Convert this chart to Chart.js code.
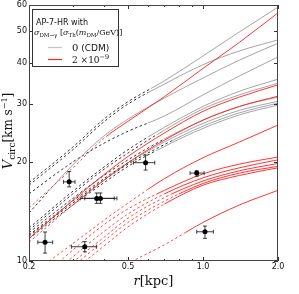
<!DOCTYPE html>
<html><head><meta charset="utf-8">
<script src="https://cdn.jsdelivr.net/npm/chart.js@4.4.0/dist/chart.umd.min.js"></script>
<style>html,body{margin:0;padding:0;background:#fff;overflow:hidden}</style>
</head><body>
<canvas id="c" width="299" height="294" style="width:299px;height:294px;display:block"></canvas>
<script>
// ---- data ----
const radii = [0.2, 0.3, 0.4, 0.5, 0.7, 1.0, 1.4, 2.0];           // r [kpc]
// CDM (sigma = 0) rotation curves, V_circ [km/s] at the radii above
const cdmCurves = [
  [17.3, 22.2, 27.0, 30.5, 35.3, 42.0, 49.7, 59.1],
  [17.0, 21.8, 26.5, 30.0, 34.5, 39.5, 43.5, 47.0],
  [14.0, 19.6, 24.0, 27.0, 31.3, 36.0, 40.8, 45.9],
  [16.0, 20.0, 22.8, 24.8, 27.6, 32.0, 36.5, 41.7],
  [12.6, 16.3, 19.3, 21.8, 25.5, 29.5, 32.8, 35.7],
  [12.4, 16.0, 19.0, 21.3, 25.0, 29.0, 32.0, 34.7],
  [12.2, 15.5, 18.2, 20.3, 23.5, 26.8, 29.5, 31.5],
  [12.0, 15.2, 17.8, 19.9, 23.0, 26.2, 28.7, 30.6],
  [11.9, 15.0, 17.6, 19.7, 22.6, 25.7, 28.2, 30.2],
  [11.7, 14.8, 17.3, 19.4, 22.3, 25.3, 27.8, 29.8]
];
const cdmConv = [0.62, 0.6, 0.24, 0.6, 0.6, 0.65, 0.7, 0.55, 0.75, 0.65];   // convergence radius
// SIDM (sigma = 2e-9) rotation curves
const sidmCurves = [
  [14.5, 19.2, 23.6, 26.6, 31.6, 38.5, 46.2, 56.8],
  [11.7, 15.3, 18.3, 20.8, 24.5, 28.5, 31.5, 34.3],
  [11.4, 14.8, 17.6, 19.9, 23.3, 26.8, 29.5, 31.7],
  [9.0, 11.3, 13.3, 15.0, 17.8, 20.6, 23.0, 25.9],
  [8.2, 10.8, 12.9, 14.4, 16.4, 18.4, 19.7, 20.7],
  [7.8, 10.3, 12.3, 13.9, 16.0, 17.9, 19.2, 20.3],
  [7.4, 9.9, 11.8, 13.5, 15.6, 17.5, 18.8, 19.8],
  [7.2, 9.6, 11.5, 13.1, 15.2, 17.2, 18.5, 19.4],
  [7.0, 9.3, 11.1, 12.7, 14.9, 17.0, 18.2, 19.2],
  [6.0, 7.5, 8.7, 9.8, 11.2, 13.1, 14.8, 16.4]
];
const sidmConv = [0.41, 0.2, 0.3, 0.6, 0.65, 0.7, 0.75, 0.8, 0.7, 0.85];
// observed points with error bars
const obsR   = [0.232, 0.290, 0.374, 0.387, 0.588, 0.335, 0.943, 1.018];
const obsV   = [11.4, 17.4, 15.5, 15.5, 19.9, 11.05, 18.5, 12.27];
const obsRlo = [0.217, 0.275, 0.321, 0.335, 0.525, 0.296, 0.887, 0.943];
const obsRhi = [0.249, 0.306, 0.440, 0.451, 0.640, 0.373, 1.01, 1.10];
const obsVlo = [10.57, 16.8, 14.97, 14.97, 18.9, 10.67, 18.1, 11.72];
const obsVhi = [12.25, 18.7, 16.1, 16.1, 21.0, 11.45, 18.8, 12.77];
// axes
const xMajorTicks = [0.2, 0.5, 1.0, 2.0];
const xTickLabels = ['0.2', '0.5', '1.0', '2.0'];
const xMinorTicks = [0.3, 0.4, 0.6, 0.7, 0.8, 0.9];
const yMajorTicks = [10, 20, 30, 40, 50, 60];
const yTickLabels = ['10', '20', '30', '40', '50', '60'];
const legendTitle = 'AP-7-HR with';
const legendLabels = ['0 (CDM)', '2 \u00d710'];

// ---- build datasets ----
const GRAY = 'rgb(155,155,155)', RED = 'rgb(255,30,30)';
const datasets = [];
datasets.push({
  type: 'scatter', label: 'obs', isObs: true,
  data: obsR.map((r, i) => ({x: r, y: obsV[i]})),
  pointRadius: 2.5, pointBackgroundColor: '#000', pointBorderColor: '#000', pointBorderWidth: 0,
  showLine: false
});
function addCurves(curves, conv, solidColor, dashColor) {
  curves.forEach((vals, i) => {
    const data = radii.map((r, k) => ({x: r, y: vals[k]}));
    datasets.push({data, convMin: conv[i], borderColor: solidColor, borderWidth: 0.9,
      pointRadius: 0, cubicInterpolationMode: 'monotone', fill: false});
    datasets.push({data, convMax: conv[i], borderColor: dashColor, borderWidth: 0.8,
      borderDash: [2.5, 2.5], pointRadius: 0, cubicInterpolationMode: 'monotone', fill: false});
  });
}
addCurves(sidmCurves, sidmConv, RED, RED);
addCurves(cdmCurves, cdmConv, GRAY, '#000');

// ---- helpers ----
function richText(ctx, x, y, parts) {
  let cx = x;
  parts.forEach(p => { ctx.font = p.f; ctx.fillText(p.t, cx, y + (p.dy || 0)); cx += ctx.measureText(p.t).width; });
  return cx - x;
}
function richWidth(ctx, parts) {
  let w = 0; parts.forEach(p => { ctx.font = p.f; w += ctx.measureText(p.t).width; }); return w;
}

const convClip = {
  id: 'convClip',
  beforeDatasetDraw(chart, args) {
    const ds = chart.data.datasets[args.index];
    const ctx = chart.ctx, a = chart.chartArea, xs = chart.scales.x;
    if (ds.isObs) {
      ctx.save();
      ctx.strokeStyle = 'rgba(30,30,30,0.85)'; ctx.lineWidth = 1;
      const ys = chart.scales.y;
      ctx.beginPath();
      obsR.forEach((r, i) => {
        const px = xs.getPixelForValue(r), py = ys.getPixelForValue(obsV[i]);
        const x0 = xs.getPixelForValue(obsRlo[i]), x1 = xs.getPixelForValue(obsRhi[i]);
        const y0 = ys.getPixelForValue(obsVlo[i]), y1 = ys.getPixelForValue(obsVhi[i]);
        ctx.moveTo(x0, py); ctx.lineTo(x1, py);
        ctx.moveTo(px, y0); ctx.lineTo(px, y1);
        ctx.moveTo(x0, py - 2); ctx.lineTo(x0, py + 2);
        ctx.moveTo(x1, py - 2); ctx.lineTo(x1, py + 2);
        ctx.moveTo(px - 2, y0); ctx.lineTo(px + 2, y0);
        ctx.moveTo(px - 2, y1); ctx.lineTo(px + 2, y1);
      });
      ctx.stroke();
      ctx.restore();
      return;
    }
    if (ds.convMin === undefined && ds.convMax === undefined) return;
    let l = a.left, r = a.right;
    if (ds.convMax !== undefined) r = xs.getPixelForValue(ds.convMax);
    if (ds.convMin !== undefined) l = xs.getPixelForValue(ds.convMin);
    ctx.save();
    ctx.beginPath(); ctx.rect(l, a.top, r - l, a.bottom - a.top); ctx.clip();
  },
  afterDatasetDraw(chart, args) {
    const ds = chart.data.datasets[args.index];
    if (ds.isObs) return;
    if (ds.convMin === undefined && ds.convMax === undefined) return;
    chart.ctx.restore();
  }
};

const decor = {
  id: 'decor',
  afterDraw(chart) {
    const ctx = chart.ctx, a = chart.chartArea, xs = chart.scales.x, ys = chart.scales.y;
    ctx.save();
    ctx.setLineDash([]);
    // ticks (inward, all sides)
    ctx.strokeStyle = '#333'; ctx.lineWidth = 1;
    ctx.beginPath();
    const xt = (v, len) => { const p = Math.round(xs.getPixelForValue(v)) + 0.5;
      ctx.moveTo(p, a.bottom); ctx.lineTo(p, a.bottom - len); ctx.moveTo(p, a.top); ctx.lineTo(p, a.top + len); };
    xMajorTicks.forEach(v => xt(v, 4)); xMinorTicks.forEach(v => xt(v, 2));
    yMajorTicks.forEach(v => { const p = Math.round(ys.getPixelForValue(v)) + 0.5;
      ctx.moveTo(a.left, p); ctx.lineTo(a.left + 4, p); ctx.moveTo(a.right, p); ctx.lineTo(a.right - 4, p); });
    ctx.stroke();
    // frame
    ctx.strokeStyle = '#444'; ctx.lineWidth = 1;
    ctx.strokeRect(a.left + 0.5, a.top + 0.5, a.right - a.left - 1, a.bottom - a.top - 1);
    // tick labels
    ctx.fillStyle = '#111';
    ctx.font = '8px "DejaVu Sans"';
    ctx.textAlign = 'center'; ctx.textBaseline = 'top';
    xMajorTicks.forEach((v, i) => ctx.fillText(xTickLabels[i], xs.getPixelForValue(v), a.bottom + 2));
    ctx.textAlign = 'right'; ctx.textBaseline = 'middle';
    yMajorTicks.forEach((v, i) => ctx.fillText(yTickLabels[i], a.left - 2, ys.getPixelForValue(v)));
    // x title
    ctx.textAlign = 'left'; ctx.textBaseline = 'alphabetic';
    const xParts = [{t: 'r', f: 'italic 13px "DejaVu Serif"'}, {t: '[kpc]', f: '13px "DejaVu Serif"'}];
    const xw = richWidth(ctx, xParts);
    richText(ctx, (a.left + a.right) / 2 - xw / 2, 285, xParts);
    // y title
    const yParts = [{t: 'V', f: 'italic 13px "DejaVu Serif"'}, {t: 'circ', f: '9px "DejaVu Serif"', dy: 3},
      {t: '[km s', f: '12px "DejaVu Serif"'}, {t: '\u22121', f: '8px "DejaVu Serif"', dy: -5}, {t: ']', f: '12px "DejaVu Serif"'}];
    const yw = richWidth(ctx, yParts);
    ctx.save();
    ctx.translate(12, (a.top + a.bottom) / 2 - 2);
    ctx.rotate(-Math.PI / 2);
    richText(ctx, -yw / 2, 0, yParts);
    ctx.restore();
    // legend
    ctx.fillStyle = '#fff'; ctx.fillRect(32.5, 9.5, 86, 57);
    ctx.strokeStyle = '#333'; ctx.lineWidth = 1; ctx.strokeRect(32.5, 9.5, 86, 57);
    ctx.fillStyle = '#111';
    ctx.font = '8px "DejaVu Sans"';
    ctx.fillText(legendTitle, 36, 25);
    richText(ctx, 34, 35, [
      {t: '\u03c3', f: 'italic 8px "DejaVu Serif"'}, {t: 'DM\u2192\u03b3', f: '5.5px "DejaVu Serif"', dy: 2},
      {t: ' [', f: '8px "DejaVu Serif"'}, {t: '\u03c3', f: 'italic 8px "DejaVu Serif"'},
      {t: 'Th', f: '5.5px "DejaVu Serif"', dy: 2}, {t: '(', f: '8px "DejaVu Serif"'},
      {t: 'm', f: 'italic 8px "DejaVu Serif"'}, {t: 'DM', f: '5.5px "DejaVu Serif"', dy: 2},
      {t: '/GeV)]', f: '8px "DejaVu Serif"'}]);
    // legend samples
    ctx.lineWidth = 1.2;
    ctx.strokeStyle = 'rgb(195,195,195)';
    ctx.beginPath(); ctx.moveTo(48, 47.5); ctx.lineTo(62, 47.5); ctx.stroke();
    ctx.strokeStyle = 'rgb(255,40,40)';
    ctx.beginPath(); ctx.moveTo(48, 59.5); ctx.lineTo(62, 59.5); ctx.stroke();
    ctx.fillStyle = '#111';
    richText(ctx, 72, 51, [{t: '0', f: '10px "DejaVu Serif"'}, {t: legendLabels[0].slice(1), f: '9px "DejaVu Sans"'}]);
    richText(ctx, 72, 63, [{t: legendLabels[1], f: '9px "DejaVu Serif"'}, {t: '\u22129', f: '6.5px "DejaVu Serif"', dy: -4}]);
    ctx.restore();
  }
};

new Chart(document.getElementById('c'), {
  type: 'line',
  data: {datasets},
  options: {
    responsive: false, animation: false, devicePixelRatio: 1,
    layout: {padding: {left: 29, right: 21, top: 5, bottom: 33}},
    plugins: {legend: {display: false}, tooltip: {enabled: false}},
    elements: {line: {tension: 0}},
    scales: {
      x: {type: 'logarithmic', min: 0.2, max: 2.0, display: false},
      y: {type: 'logarithmic', min: 10, max: 60, display: false}
    }
  },
  plugins: [convClip, decor]
});
</script>
</body></html>
